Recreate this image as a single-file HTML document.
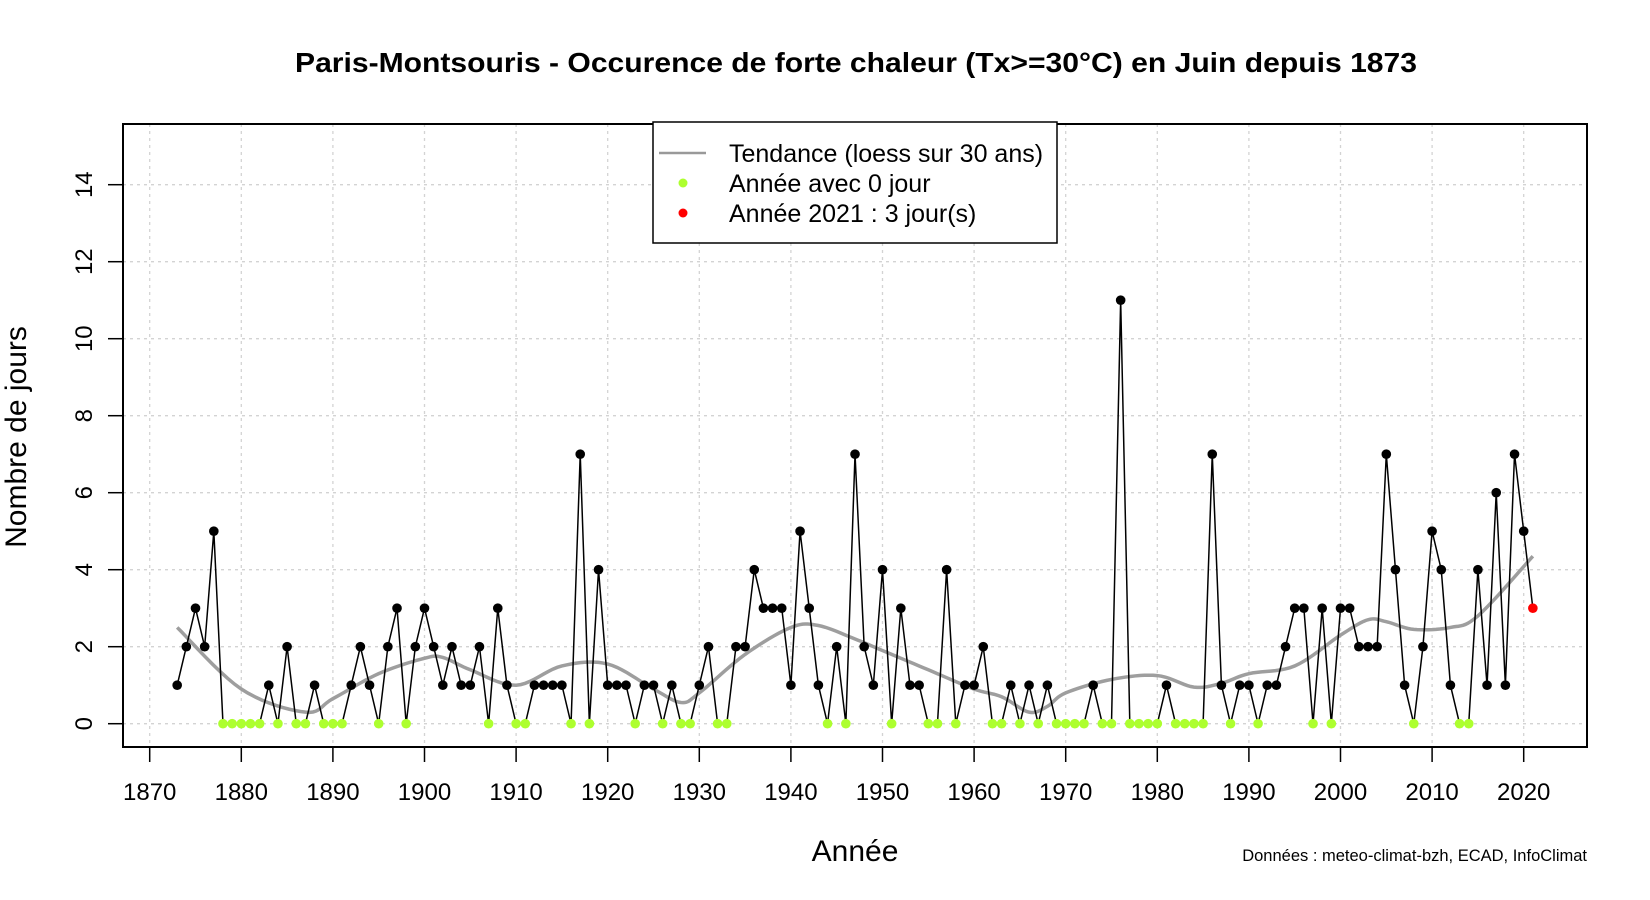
<!DOCTYPE html>
<html><head><meta charset="utf-8"><style>html,body{margin:0;padding:0;background:#fff}svg{display:block}text{font-family:"Liberation Sans",Arial,sans-serif}</style></head>
<body>
<svg id="s" width="1650" height="900" xmlns="http://www.w3.org/2000/svg">
<text x="856" y="72" font-size="28" font-weight="bold" text-anchor="middle" textLength="1122" lengthAdjust="spacingAndGlyphs">Paris-Montsouris - Occurence de forte chaleur (Tx&gt;=30°C) en Juin depuis 1873</text>
<g id="grid" stroke="#d3d3d3" stroke-width="1.3" stroke-dasharray="3,4"></g>
<g id="axes" font-size="24"></g>
<rect x="123" y="124" width="1464" height="623" fill="none" stroke="#000" stroke-width="2"/>
<g id="trend"></g>
<g id="data"></g>
<rect x="653" y="122" width="404" height="121" fill="#fff" stroke="#000" stroke-width="1.5"/>
<line x1="659" y1="153" x2="706" y2="153" stroke="#999" stroke-width="2.5"/>
<circle cx="683" cy="183" r="4.5" fill="#adff2f"/>
<circle cx="683" cy="213" r="4.5" fill="#ff0000"/>
<text x="729" y="162" font-size="25">Tendance (loess sur 30 ans)</text>
<text x="729" y="192" font-size="25">Année avec 0 jour</text>
<text x="729" y="222" font-size="25">Année 2021 : 3 jour(s)</text>
<text x="855" y="861" font-size="30" text-anchor="middle">Année</text>
<text transform="translate(26,437) rotate(-90)" font-size="30" text-anchor="middle">Nombre de jours</text>
<text x="1587" y="861" font-size="16.5" text-anchor="end">Données : meteo-climat-bzh, ECAD, InfoClimat</text>
</svg>
<script>
const NS="http://www.w3.org/2000/svg";
function X(y){return 149.7+(y-1870)*9.16}
function Y(v){return 723.7-v*38.5}
function el(p,t,a,txt){const e=document.createElementNS(NS,t);for(const k in a)e.setAttribute(k,a[k]);if(txt!==undefined)e.textContent=txt;document.getElementById(p).appendChild(e);return e}
for(let y=1870;y<=2020;y+=10){el('grid','line',{x1:X(y),x2:X(y),y1:124,y2:747});
 el('axes','line',{x1:X(y),x2:X(y),y1:747,y2:762,stroke:'#000','stroke-width':1.5});
 el('axes','text',{x:X(y),y:800,'text-anchor':'middle'},y);}
for(let v=0;v<=14;v+=2){el('grid','line',{x1:123,x2:1587,y1:Y(v),y2:Y(v)});
 el('axes','line',{x1:108,x2:123,y1:Y(v),y2:Y(v),stroke:'#000','stroke-width':1.5});
 el('axes','text',{x:0,y:0,'text-anchor':'middle',transform:`translate(${92},${Y(v)}) rotate(-90)`},v);}
const d=[1,2,3,2,5,0,0,0,0,0,1,0,2,0,0,1,0,0,0,1,2,1,0,2,3,0,2,3,2,1,2,1,1,2,0,3,1,0,0,1,1,1,1,0,7,0,4,1,1,1,0,1,1,0,1,0,0,1,2,0,0,2,2,4,3,3,3,1,5,3,1,0,2,0,7,2,1,4,0,3,1,1,0,0,4,0,1,1,2,0,0,1,0,1,0,1,0,0,0,0,1,0,0,11,0,0,0,0,1,0,0,0,0,7,1,0,1,1,0,1,1,2,3,3,0,3,0,3,3,2,2,2,7,4,1,0,2,5,4,1,0,0,4,1,6,1,7,5,3];
let pts=d.map((v,i)=>X(1873+i)+','+Y(v)).join(' ');
const tr=[[1873,2.5],[1880,0.9],[1887,0.3],[1890,0.65],[1895,1.3],[1900,1.7],[1902,1.72],[1905,1.4],[1910,1.0],[1915,1.5],[1920,1.55],[1925,0.9],[1928,0.55],[1930,0.8],[1935,1.8],[1940,2.5],[1943,2.55],[1947,2.2],[1950,1.9],[1955,1.4],[1960,0.9],[1963,0.7],[1966,0.3],[1968,0.45],[1970,0.8],[1975,1.15],[1980,1.25],[1984,0.95],[1987,1.05],[1990,1.3],[1995,1.5],[2000,2.3],[2003,2.7],[2005,2.65],[2008,2.45],[2012,2.5],[2015,2.8],[2021,4.35]];
let tp=[];for(let i=0;i<tr.length-1;i++){const p0=tr[Math.max(0,i-1)],p1=tr[i],p2=tr[i+1],p3=tr[Math.min(tr.length-1,i+2)];
 for(let t=0;t<1;t+=0.1){const t2=t*t,t3=t2*t;const f=(a,b,c,e)=>0.5*(2*b+(-a+c)*t+(2*a-5*b+4*c-e)*t2+(-a+3*b-3*c+e)*t3);
 tp.push(X(f(p0[0],p1[0],p2[0],p3[0]))+','+Y(f(p0[1],p1[1],p2[1],p3[1])));}}
tp.push(X(2021)+','+Y(4.35));
el('trend','polyline',{points:tp.join(' '),fill:'none',stroke:'#9e9e9e','stroke-width':3.5});
el('data','polyline',{points:pts,fill:'none',stroke:'#000','stroke-width':1.5});
d.forEach((v,i)=>{const yr=1873+i;el('data','circle',{cx:X(yr),cy:Y(v),r:4.8,fill:yr==2021?'#ff0000':(v==0?'#adff2f':'#000')});});
</script>
</body></html>
